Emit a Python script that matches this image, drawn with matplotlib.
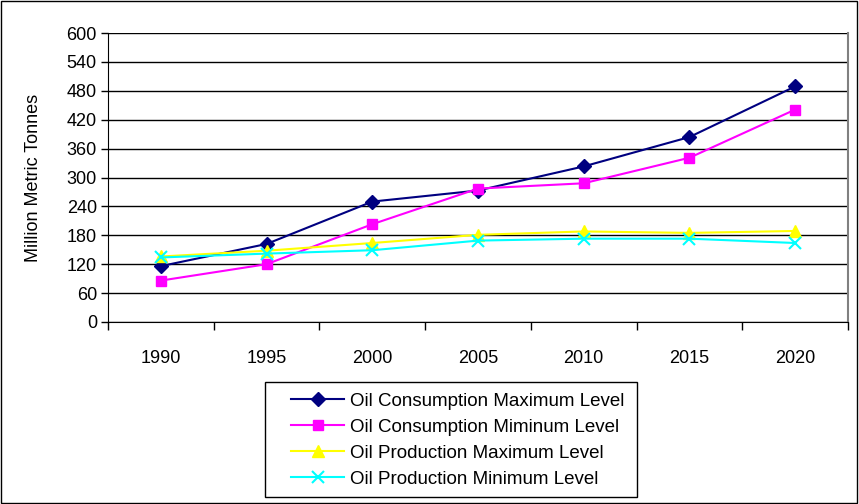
import matplotlib
matplotlib.use("Agg")
import matplotlib.pyplot as plt
from matplotlib.patches import Rectangle

# ---------------------------------------------------
# Datos
# ---------------------------------------------------
years = ["1990", "1995", "2000", "2005", "2010", "2015", "2020"]
cons_max = [116, 162, 250, 273, 323, 384, 489]
cons_min = [86, 120, 203, 277, 288, 341, 441]
prod_max = [136, 148, 164, 181, 188, 185, 189]
prod_min = [134, 142, 149, 169, 173, 173, 164]
y_ticks = [0, 60, 120, 180, 240, 300, 360, 420, 480, 540, 600]

plt.rcParams["font.family"] = ["Liberation Sans", "DejaVu Sans"]

fig = plt.figure(figsize=(8.59, 5.04), dpi=100)
ax = fig.add_axes([108/859, 1-322/504, 740/859, 289/504])

x = list(range(len(years)))
ax.plot(x, cons_max, color="#000080", marker="D", markersize=7, lw=1.5,
        label="Oil Consumption Maximum Level")
ax.plot(x, cons_min, color="#FF00FF", marker="s", markersize=7.5, lw=1.5,
        label="Oil Consumption Miminum Level")
ax.plot(x, prod_max, color="#FFFF00", marker="^", markersize=9, lw=1.5,
        label="Oil Production Maximum Level")
ax.plot(x, prod_min, color="#00FFFF", marker="x", markersize=9, mew=1.5, lw=1.5,
        label="Oil Production Minimum Level")

# ejes
ax.set_xlim(-0.5, len(years) - 0.5)
ax.set_ylim(0, 600)
ax.set_yticks(y_ticks)
ax.yaxis.grid(True, color="black", lw=1)
ax.set_axisbelow(True)
ax.tick_params(axis="y", direction="out", length=5, width=1, labelsize=13, pad=3)

ax.set_xticks([i - 0.5 for i in range(len(years) + 1)])
ax.set_xticklabels([])
ax.tick_params(axis="x", which="major", direction="out", length=6, width=1)
ax.set_xticks(x, minor=True)
ax.set_xticklabels(years, minor=True)
ax.tick_params(axis="x", which="minor", length=0, labelsize=13, pad=20)

for s in ["left", "bottom"]:
    ax.spines[s].set_color("black")
ax.spines["top"].set_visible(False)
ax.spines["right"].set_color("#808080")
ax.spines["right"].set_linewidth(1.5)

ax.set_ylabel("Million Metric Tonnes", fontsize=13, labelpad=18)

# leyenda sin marco, el marco se dibuja aparte
leg = ax.legend(loc="upper left", bbox_to_anchor=(291/859, 1-392.5/504),
                bbox_transform=fig.transFigure, fontsize=13.5, frameon=False,
                borderpad=0, handlelength=2.85, handletextpad=0.28,
                labelspacing=0.48, borderaxespad=0)
fig.patches.append(Rectangle((265/859, 1-497/504), 372/859, 115/504,
                             transform=fig.transFigure, fill=False,
                             edgecolor="black", lw=1))

# marco exterior
fig.patches.append(Rectangle((0.001, 0.001), 0.997, 0.997, transform=fig.transFigure,
                             fill=False, edgecolor="black", lw=1))

fig.savefig("out.png", dpi=100)
